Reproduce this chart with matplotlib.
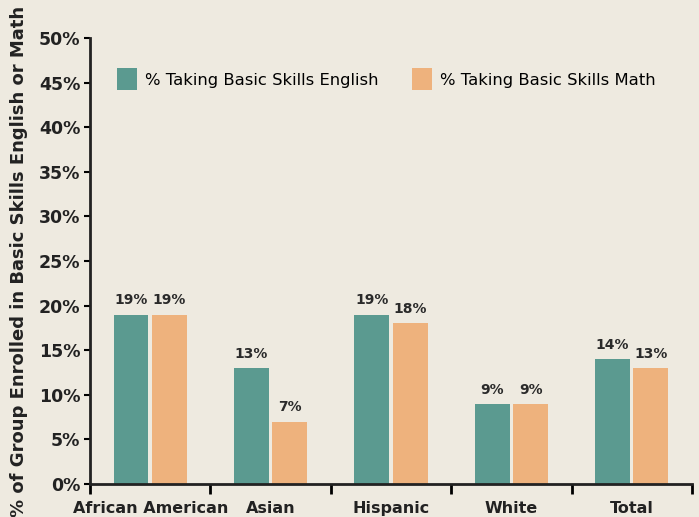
import matplotlib
matplotlib.use('Agg')
from matplotlib import pyplot as plt
import numpy as np

categories = ['African American', 'Asian', 'Hispanic', 'White', 'Total']
english = [19, 13, 19, 9, 14]
math = [19, 7, 18, 9, 13]
y_ticks = [0, 5, 10, 15, 20, 25, 30, 35, 40, 45, 50]

bg = '#EEEAE0'
green = '#5B9A90'
orange = '#EEB27D'

fig = plt.figure(figsize=(6.99, 5.17), dpi=100)
fig.patch.set_facecolor(bg)
ax = fig.add_axes([0.1288, 0.0638, 0.861, 0.8627])
ax.set_facecolor(bg)

x = np.arange(len(categories))
w = 0.29
off = 0.16
b1 = ax.bar(x - off, english, w, color=green, label='% Taking Basic Skills English')
b2 = ax.bar(x + off, math, w, color=orange, label='% Taking Basic Skills Math')

for bars, vals in ((b1, english), (b2, math)):
    for b, v in zip(bars, vals):
        ax.text(b.get_x() + b.get_width() / 2, v + 0.8, f'{v}%', ha='center', va='bottom',
                fontsize=10, fontweight='bold', color='#2a2a2a')

ax.set_xlim(-0.5, len(categories) - 0.5)
ax.set_ylim(0, 50)
ax.set_yticks(y_ticks)
ax.set_yticklabels([f'{t}%' for t in y_ticks], fontsize=12.5, fontweight='bold', color='#222222')

ax.set_xticks(np.arange(len(categories) + 1) - 0.5)
ax.set_xticklabels([])
ax.set_xticks(x, minor=True)
ax.set_xticklabels(categories, minor=True, fontsize=11.5, fontweight='bold', color='#222222')
ax.tick_params(axis='x', which='major', length=7, width=2, direction='out')
ax.tick_params(axis='x', which='minor', length=0, pad=12)
ax.tick_params(axis='y', length=4, width=1.5, pad=3)

for s in ('top', 'right'):
    ax.spines[s].set_visible(False)
for s in ('left', 'bottom'):
    ax.spines[s].set_linewidth(2)
    ax.spines[s].set_color('#222222')

ax.set_ylabel('% of Group Enrolled in Basic Skills English or Math', fontsize=13,
              fontweight='bold', color='#222222', labelpad=8)

ax.legend(loc='upper left', bbox_to_anchor=(0.02, 0.965), ncol=2, frameon=False,
          fontsize=11.8, handlelength=1.25, handleheight=1.7, columnspacing=2.0,
          handletextpad=0.5)

fig.savefig('out.png', dpi=100, facecolor=bg)
